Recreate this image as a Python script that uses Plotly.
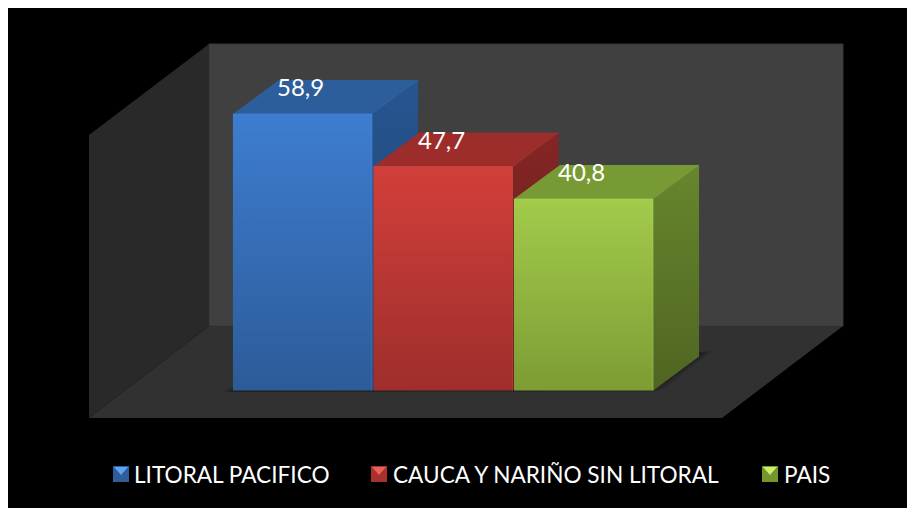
"""Barras 3D (estilo Excel) dibujadas en 2D: caras de cada barra a partir de los valores."""
import plotly.graph_objects as go

# Datos
CATEGORIAS = ["LITORAL PACIFICO", "CAUCA Y NARIÑO SIN LITORAL", "PAIS"]
VALORES = [58.9, 47.7, 40.8]
ETIQUETAS = ["58,9", "47,7", "40,8"]

# Colores por serie: frente (arriba, abajo), tapa, lateral (arriba, abajo), borde, icono claro
FRENTE_SUP = ["#3d7dd0", "#d23f3a", "#a2cb4b"]
FRENTE_INF = ["#2d5b98", "#9e2e2c", "#7d9c34"]
TAPA = ["#2c5e9b", "#9c2d2b", "#789a34"]
LATERAL_SUP = ["#275590", "#842625", "#67862d"]
LATERAL_INF = ["#1f4170", "#661c1b", "#4f6522"]
BORDE = ["#4a88d8", "#e04e48", "#b0d85a"]
ICONO_CLARO = ["#5ea4f2", "#e8625c", "#cdee6c"]
ICONO_OSCURO = ["#2f5d9a", "#a83130", "#76952f"]

FONDO = "#000000"
PARED = "#404040"
PARED_LADO = "#292929"
SUELO = "#313131"
FUENTE = "Lato, Carlito, sans-serif"

W, H = 907, 500  # la página deja 8 px arriba e izquierda
OFF = 8
PX_POR_UNIDAD = 4.695
PX_POR_CAT = 140.5
BASE_PX = 390.5 - OFF
CENTRO0_PX = 302.5 - OFF
ANCHO = 0.99
DX, DY = 46 / PX_POR_CAT, 34 / PX_POR_UNIDAD  # profundidad en unidades de los ejes


def px(x):
    return (x - OFF) / W


def py(y):
    return 1 - (y - OFF) / H


def poligono(puntos, color, linea=None):
    path = "M" + " L".join(f"{px(x):.5f},{py(y):.5f}" for x, y in puntos) + " Z"
    return dict(type="path", xref="paper", yref="paper", path=path, fillcolor=color,
                line=dict(color=linea or "rgba(0,0,0,0)", width=1), layer="below")


def cara(xs, ys, arriba, abajo=None):
    traza = dict(x=xs + xs[:1], y=ys + ys[:1], mode="lines", fill="toself",
                 line=dict(width=0), showlegend=False, hoverinfo="skip")
    if abajo:
        traza["fillgradient"] = dict(type="vertical", colorscale=[[0, abajo], [1, arriba]])
    else:
        traza["fillcolor"] = arriba
    return go.Scatter(**traza)


fig = go.Figure()

# Caras en orden de atrás hacia delante
for i, v in enumerate(VALORES):
    x0, x1 = i - ANCHO / 2, i + ANCHO / 2
    fig.add_trace(cara([x0, x1, x1 + DX, x0 + DX], [v, v, v + DY, v + DY], TAPA[i]))
    fig.add_trace(cara([x1, x1 + DX, x1 + DX, x1], [v, v + DY, DY, 0],
                       LATERAL_SUP[i], LATERAL_INF[i]))
    fig.add_trace(cara([x0, x1, x1, x0], [v, v, 0, 0], FRENTE_SUP[i], FRENTE_INF[i]))
    # bisel: arista superior y arista vertical del frente
    fig.add_trace(go.Scatter(x=[x0, x1, x1], y=[v, v, 0], mode="lines",
                             line=dict(color=BORDE[i], width=1), opacity=0.5,
                             showlegend=False, hoverinfo="skip"))
    fig.add_trace(go.Scatter(x=[x1, x1 + DX], y=[v, v + DY], mode="lines",
                             line=dict(color=BORDE[i], width=1), opacity=0.25,
                             showlegend=False, hoverinfo="skip"))

# Rótulos de datos
anotaciones = [dict(x=i, y=v, yshift=27.5, text=t, showarrow=False, xshift=-2,
                    font=dict(family=FUENTE, size=24, color="#ffffff"))
               for i, (v, t) in enumerate(zip(VALORES, ETIQUETAS))]

# Leyenda manual
LEYENDA_ICONO_PX = [113, 371, 762]
LEYENDA_TEXTO_PX = [132, 391, 782]
formas = [
    poligono([(209, 44), (843, 44), (843, 326), (209, 326)], PARED, "#363636"),
    poligono([(89, 135), (209, 44), (209, 326), (89, 418)], PARED_LADO),
    poligono([(89, 418), (209, 326), (843, 326), (722, 418)], SUELO),
]
# sombras suaves sobre el suelo (capas translúcidas)
for a, b in [(0, 0.12), (4, 0.12), (8, 0.12)]:
    formas.append(poligono([(222 + a, 392), (233, 386 + a / 2), (653, 386), (653, 392 - a / 4)],
                           f"rgba(0,0,0,{b})"))
    formas.append(poligono([(653, 392), (699, 352), (712 - a, 351 + a / 4), (664 - a, 389)],
                           f"rgba(0,0,0,{b})"))
for i, cat in enumerate(CATEGORIAS):
    ix = LEYENDA_ICONO_PX[i]
    formas.append(poligono([(ix, 466), (ix + 16, 466), (ix + 16, 482), (ix, 482)], ICONO_OSCURO[i]))
    formas.append(poligono([(ix + 1, 467), (ix + 15, 467), (ix + 8, 475)], ICONO_CLARO[i]))
    anotaciones.append(dict(xref="paper", yref="paper", x=px(LEYENDA_TEXTO_PX[i]), y=py(474),
                            text=cat, xanchor="left", yanchor="middle", showarrow=False,
                            font=dict(family=FUENTE, size=22.6, color="#ffffff")))

fig.update_layout(
    width=W, height=H, autosize=False,
    margin=dict(l=0, r=0, t=0, b=0),
    paper_bgcolor=FONDO, plot_bgcolor="rgba(0,0,0,0)",
    showlegend=False, shapes=formas, annotations=anotaciones,
    xaxis=dict(visible=False, fixedrange=True,
               range=[-CENTRO0_PX / PX_POR_CAT, (W - CENTRO0_PX) / PX_POR_CAT]),
    yaxis=dict(visible=False, fixedrange=True,
               range=[-(H - BASE_PX) / PX_POR_UNIDAD, BASE_PX / PX_POR_UNIDAD]),
)

# sin barras de desplazamiento: la página mide 8 px más que la ventana
fig.write_html("out.html", config={"displayModeBar": False},
               post_script="document.documentElement.style.overflow='hidden';")
